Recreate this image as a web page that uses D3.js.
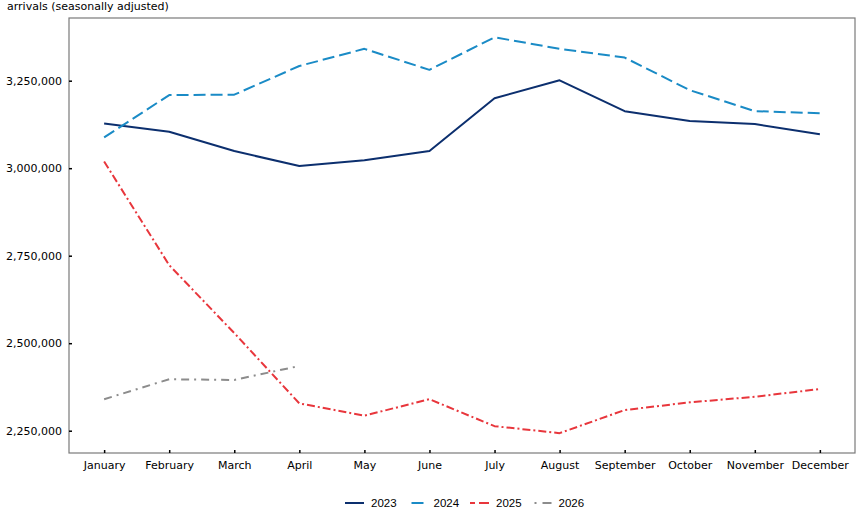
<!DOCTYPE html>
<html>
<head>
<meta charset="utf-8">
<script src="https://cdn.jsdelivr.net/npm/d3@7"></script>
<style>
  html, body { margin: 0; padding: 0; background: #fff; }
  svg { display: block; }
</style>
</head>
<body>
<svg></svg>
<script>
// chart data
const months = ['January', 'February', 'March', 'April', 'May', 'June',
    'July', 'August', 'September', 'October', 'November', 'December']
const years = ['2023', '2024', '2025', '2026']

const arrivals2023 = [3128000, 3104000, 3049000, 3006000, 3023000, 3049000,
    3200000, 3251000, 3163000, 3135000, 3126000, 3097000]
const arrivals2024 = [3088000, 3209000, 3210000, 3292000, 3341000, 3281000,
    3374000, 3341000, 3316000, 3223000, 3163000, 3157000]
const arrivals2025 = [3019000, 2723000, 2529000, 2328000, 2293000, 2340000,
    2263000, 2243000, 2309000, 2331000, 2347000, 2369000]
const arrivals2026 = [2340000, 2397000, 2395000, 2435000]

const yTicks = [2250000, 2500000, 2750000, 3000000, 3250000]
const yTitle = 'arrivals (seasonally adjusted)'

const svg = d3.select('svg'),
    width = 862,
    height = 508

svg.attr('width', width).attr('height', height)

const plot = { left: 69, right: 855, top: 18, bottom: 453 }
const labelFont = '"DejaVu Sans", Verdana, sans-serif'

const x = d3.scalePoint()
    .domain(months)
    .range([plot.left, plot.right])
    .padding(0.54)

const y = d3.scaleLinear()
    .domain([2186300, 3429100])
    .range([plot.bottom, plot.top])

// one style per year
const styles = {
    '2023': { color: '#0c2f6e', dash: null, legendDash: null },
    '2024': { color: '#1a8bc6', dash: '12,5', legendDash: '0,4,12,4' },
    '2025': { color: '#e8363c', dash: '8,3,2,3', legendDash: '5,4,10' },
    '2026': { color: '#8c8c8c', dash: '8,5,2,5', legendDash: '0,2,2,6,9' }
}

const series = [
    { year: '2023', values: arrivals2023 },
    { year: '2024', values: arrivals2024 },
    { year: '2025', values: arrivals2025 },
    { year: '2026', values: arrivals2026 }
]

// frame around the plot
svg.append('rect')
    .attr('x', plot.left)
    .attr('y', plot.top)
    .attr('width', plot.right - plot.left)
    .attr('height', plot.bottom - plot.top)
    .attr('fill', 'none')
    .attr('stroke', '#7a7a7a')
    .attr('stroke-width', 1.2)

// y axis
const yAxis = svg.append('g')
    .attr('transform', `translate(${plot.left},0)`)
    .call(d3.axisLeft(y)
        .tickValues(yTicks)
        .tickSize(-3)
        .tickPadding(7)
        .tickFormat(d3.format(',')))
yAxis.select('.domain').remove()
yAxis.selectAll('.tick line').attr('stroke', '#000').attr('stroke-width', 1.5)
yAxis.selectAll('.tick text')
    .attr('fill', '#000')
    .style('font-family', labelFont)
    .style('font-size', '11px')

// x axis
const xAxis = svg.append('g')
    .attr('transform', `translate(0,${plot.bottom})`)
    .call(d3.axisBottom(x)
        .tickSize(-3)
        .tickPadding(8))
xAxis.select('.domain').remove()
xAxis.selectAll('.tick line').attr('stroke', '#000').attr('stroke-width', 1.5)
xAxis.selectAll('.tick text')
    .attr('fill', '#000')
    .style('font-family', labelFont)
    .style('font-size', '11px')

// axis title at the top left
svg.append('text')
    .attr('x', 7)
    .attr('y', 10)
    .attr('fill', '#000')
    .style('font-family', labelFont)
    .style('font-size', '11px')
    .text(yTitle)

const line = d3.line()
    .x((d, i) => x(months[i]))
    .y(d => y(d))

svg.append('g')
    .attr('class', 'lines')
    .selectAll('path')
    .data(series)
    .enter().append('path')
    .attr('d', d => line(d.values))
    .attr('fill', 'none')
    .attr('stroke', d => styles[d.year].color)
    .attr('stroke-width', 2)
    .attr('stroke-linejoin', 'round')
    .attr('stroke-dasharray', d => styles[d.year].dash)

// legend
const legend = svg.append('g')
    .attr('class', 'legend')
    .selectAll('g')
    .data(years)
    .enter().append('g')
    .attr('transform', (d, i) => `translate(${345 + i * 62.5},503)`)

legend.append('line')
    .attr('x1', 0)
    .attr('x2', 19)
    .attr('stroke', d => styles[d].color)
    .attr('stroke-width', 2)
    .attr('stroke-dasharray', d => styles[d].legendDash)

legend.append('text')
    .attr('x', 26)
    .attr('dy', '0.35em')
    .attr('fill', '#000')
    .style('font-family', '"Liberation Sans", Arial, sans-serif')
    .style('font-size', '11.5px')
    .text(d => d)
</script>
</body>
</html>
